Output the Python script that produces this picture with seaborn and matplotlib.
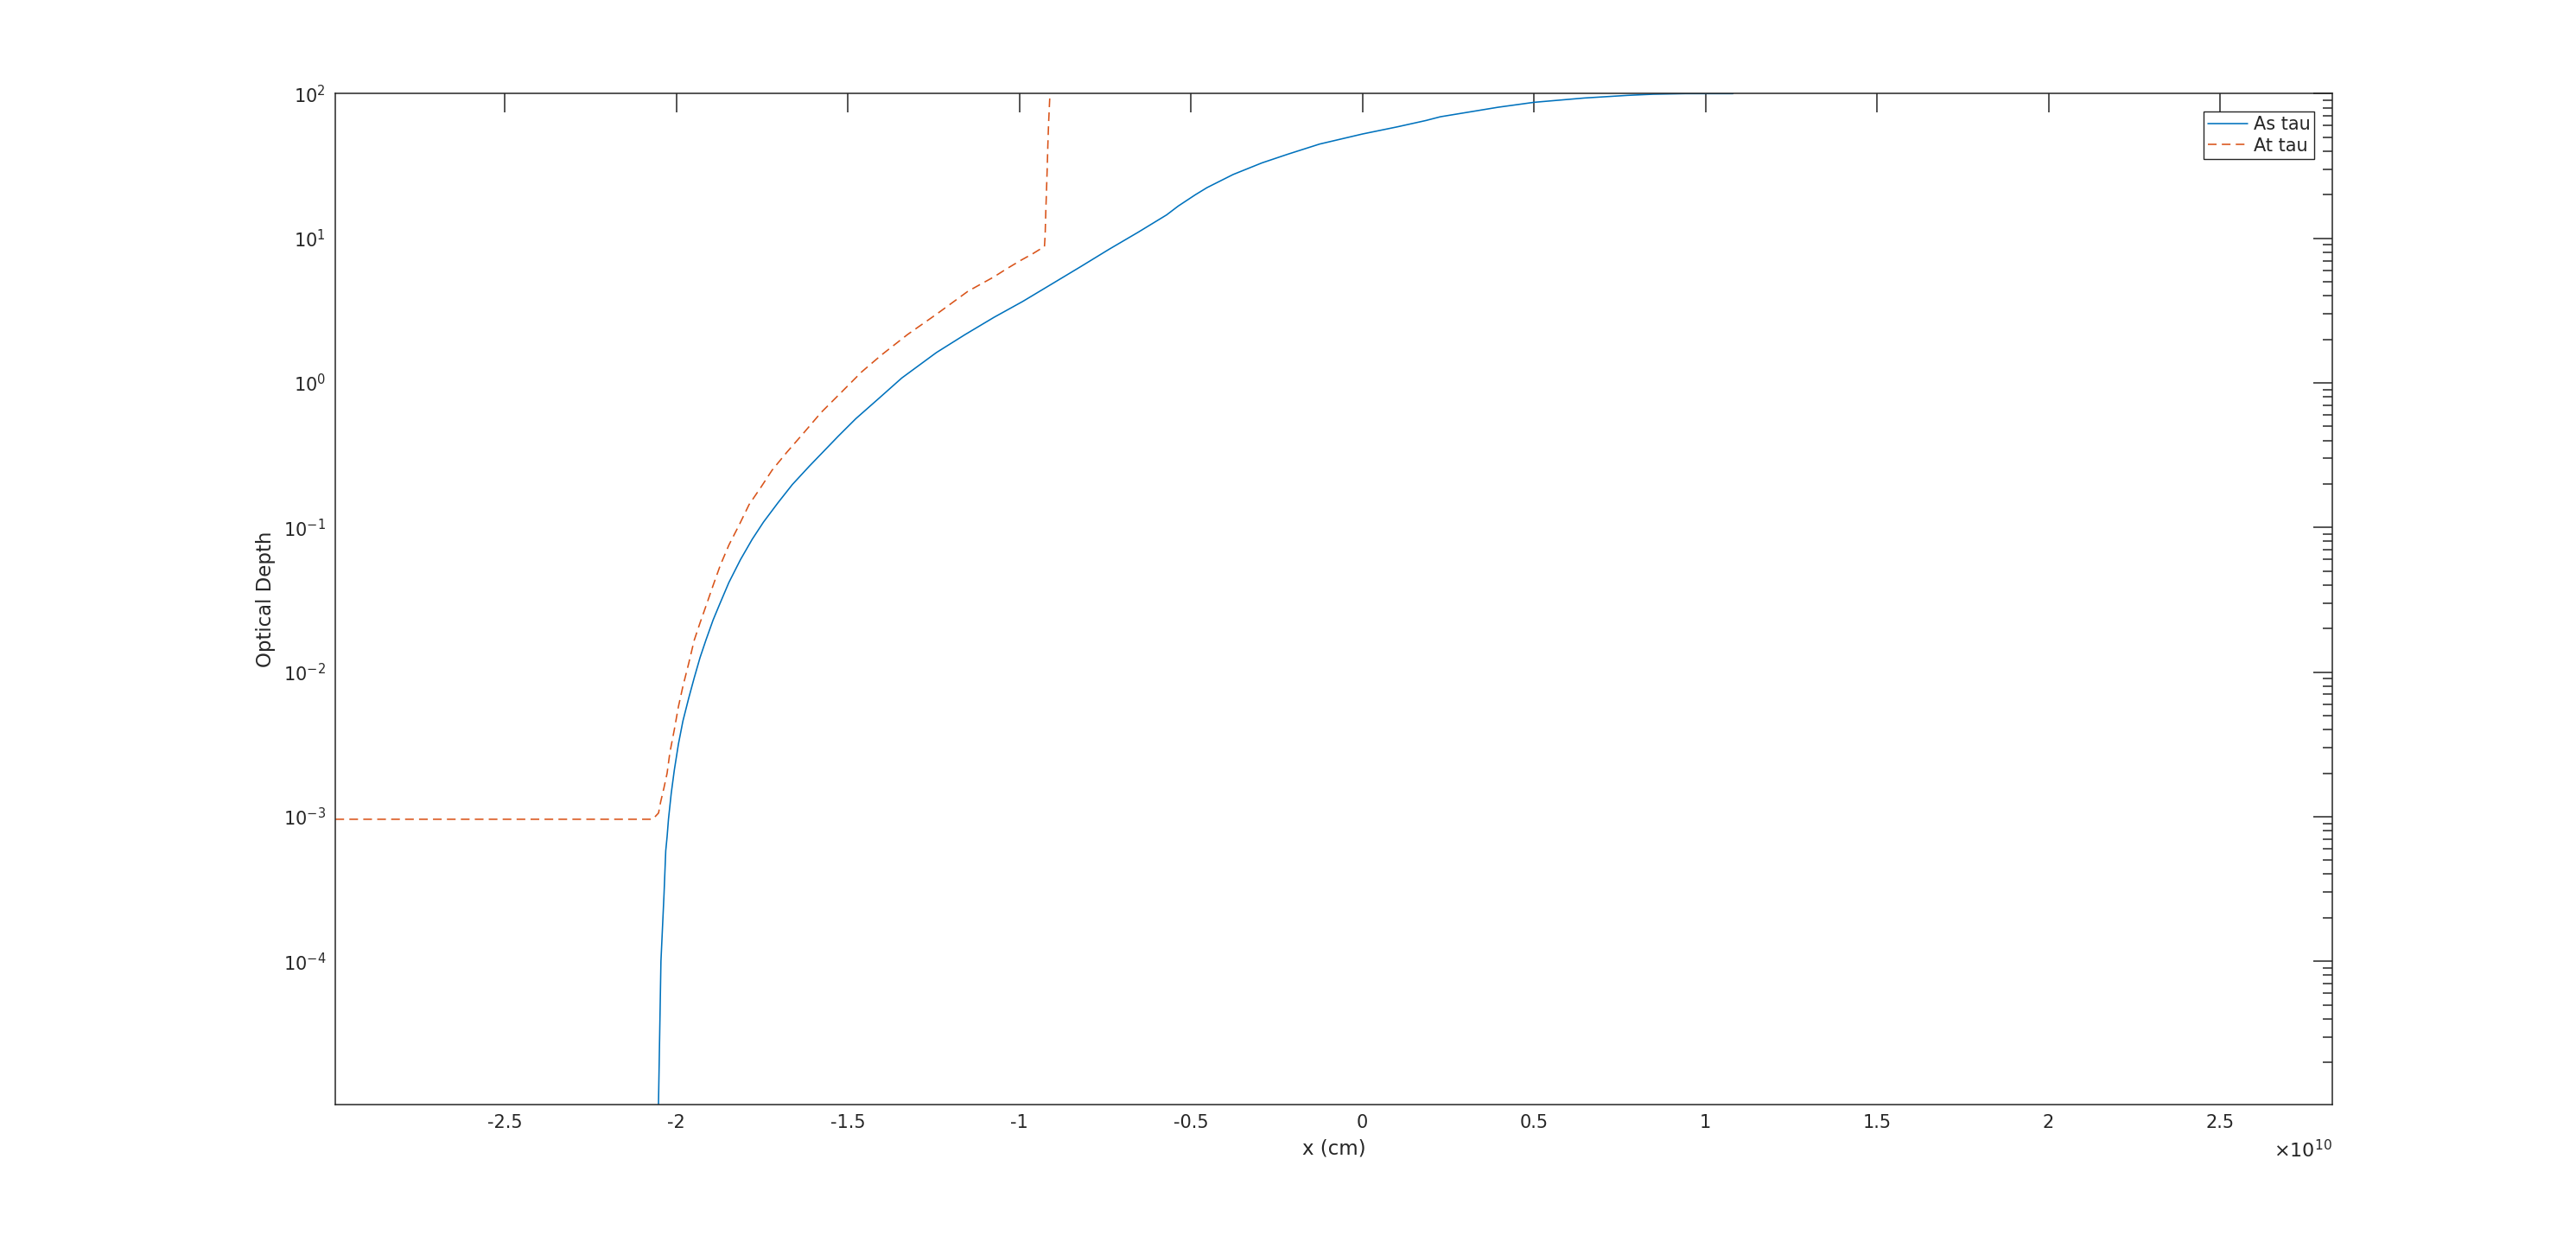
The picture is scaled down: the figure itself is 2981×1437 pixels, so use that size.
import numpy as np
import pandas as pd
import matplotlib
matplotlib.use("Agg")
import matplotlib.pyplot as plt
import matplotlib.ticker as mticker
import seaborn as sns

# x positions in units of 1e10 cm, optical depth values
as_x = [-2.053, -2.045, -2.036, -2.031, -2.027, -2.023, -2.015, -2.006, -1.994, -1.981,
        -1.964, -1.948, -1.931, -1.914, -1.893, -1.874, -1.847, -1.813, -1.779, -1.746,
        -1.704, -1.662, -1.612, -1.528, -1.477, -1.41, -1.343, -1.242, -1.158, -1.074,
        -0.99, -0.906, -0.822, -0.739, -0.654, -0.571, -0.537, -0.487, -0.453, -0.377,
        -0.293, -0.218, -0.125, 0.0, 0.101, 0.185, 0.227, 0.395, 0.5, 0.647,
        0.773, 0.848, 0.941, 1.08]
as_tau = [7.9e-6, 1.0e-4, 2.91e-4, 5.81e-4, 7.29e-4, 9.62e-4, 1.45e-3, 2.10e-3, 3.18e-3, 4.58e-3,
          6.61e-3, 9.12e-3, 1.26e-2, 1.66e-2, 2.29e-2, 2.94e-2, 4.16e-2, 6.0e-2, 8.28e-2, 0.109,
          0.148, 0.198, 0.266, 0.428, 0.565, 0.78, 1.08, 1.62, 2.16, 2.84,
          3.66, 4.82, 6.35, 8.38, 11.0, 14.5, 16.7, 20.0, 22.4, 27.6,
          33.2, 38.1, 44.8, 52.6, 58.9, 65.2, 69.2, 80.5, 87.1, 93.3,
          97.3, 99.1, 100.0, 100.0]

at_x = [-2.994, -2.069, -2.052, -2.046, -2.036, -2.027, -2.019, -2.006, -1.994, -1.981,
        -1.964, -1.948, -1.931, -1.912, -1.893, -1.872, -1.847, -1.817, -1.788, -1.754,
        -1.721, -1.679, -1.628, -1.578, -1.519, -1.46, -1.402, -1.326, -1.242, -1.15,
        -1.074, -1.041, -0.999, -0.961, -0.927, -0.925, -0.923, -0.921, -0.919, -0.917,
        -0.915, -0.911, -0.909]
at_tau = [9.6e-4, 9.6e-4, 1.06e-3, 1.26e-3, 1.59e-3, 2.0e-3, 2.77e-3, 4.0e-3, 5.77e-3, 7.96e-3,
          1.15e-2, 1.66e-2, 2.19e-2, 2.94e-2, 3.97e-2, 5.47e-2, 7.55e-2, 0.104, 0.144, 0.189,
          0.249, 0.329, 0.453, 0.624, 0.861, 1.19, 1.56, 2.16, 2.98, 4.30,
          5.41, 6.07, 6.97, 7.82, 8.77, 10.5, 15.6, 21.5, 30.3, 44.8,
          61.8, 100.0, 126.0]

x_scale = 1e10
x_limits = (-2.994, 2.828)
x_ticks = [-2.5, -2, -1.5, -1, -0.5, 0, 0.5, 1, 1.5, 2, 2.5]

df_as = pd.DataFrame({"x": np.array(as_x) * x_scale, "tau": as_tau})
df_at = pd.DataFrame({"x": np.array(at_x) * x_scale, "tau": at_tau})

sns.set_theme(style="white")
plt.rcParams["font.family"] = ["DejaVu Sans"]
plt.rcParams["axes.unicode_minus"] = False
text_col = "#262626"

fig = plt.figure(figsize=(29.81, 14.37), dpi=100)
ax = fig.add_axes([0.1302, 0.1106, 0.9055 - 0.1302, 0.9246 - 0.1106])

sns.lineplot(data=df_as, x="x", y="tau", ax=ax, color="#0072BD", linewidth=1.15,
             estimator=None, sort=False, label="As tau")
sns.lineplot(data=df_at, x="x", y="tau", ax=ax, color="#D95319", linewidth=1.15,
             linestyle=(0, (6.3, 3.8)), estimator=None, sort=False, label="At tau")

ax.set_yscale("log")
ax.set_xlim(x_limits[0] * x_scale, x_limits[1] * x_scale)
ax.set_ylim(1.02e-5, 100)

ax.set_xticks([t * x_scale for t in x_ticks])
ax.xaxis.set_major_formatter(mticker.FuncFormatter(lambda v, p: f"{v / x_scale:g}"))
ax.yaxis.set_major_locator(mticker.LogLocator(base=10, numticks=20))
ax.yaxis.set_minor_locator(mticker.LogLocator(base=10, subs=np.arange(2, 10), numticks=100))
ax.yaxis.set_minor_formatter(mticker.NullFormatter())

ax.tick_params(which="both", direction="in", top=True, right=True,
               colors=text_col, labelsize=15, width=1.1)
ax.tick_params(which="major", length=15.8, pad=8)
ax.tick_params(which="minor", length=8)
for s in ax.spines.values():
    s.set_color(text_col)
    s.set_linewidth(1.1)

ax.set_xlabel("x (cm)", fontsize=16.5, color=text_col, labelpad=6)
ax.set_ylabel("Optical Depth", fontsize=16.5, color=text_col, labelpad=6)
ax.text(1.0, -0.0445, r"$\times10^{10}$", transform=ax.transAxes, ha="right",
        va="center", fontsize=16, color=text_col)

leg = ax.legend(loc="upper right", fontsize=15, frameon=True, fancybox=False,
                borderaxespad=1.0, borderpad=0.25, labelspacing=0.2,
                handlelength=2.2, handletextpad=0.3)
leg.get_frame().set_edgecolor(text_col)
leg.get_frame().set_linewidth(1.0)
leg.get_frame().set_alpha(1)

fig.savefig("out.png", dpi=100, facecolor="white")
